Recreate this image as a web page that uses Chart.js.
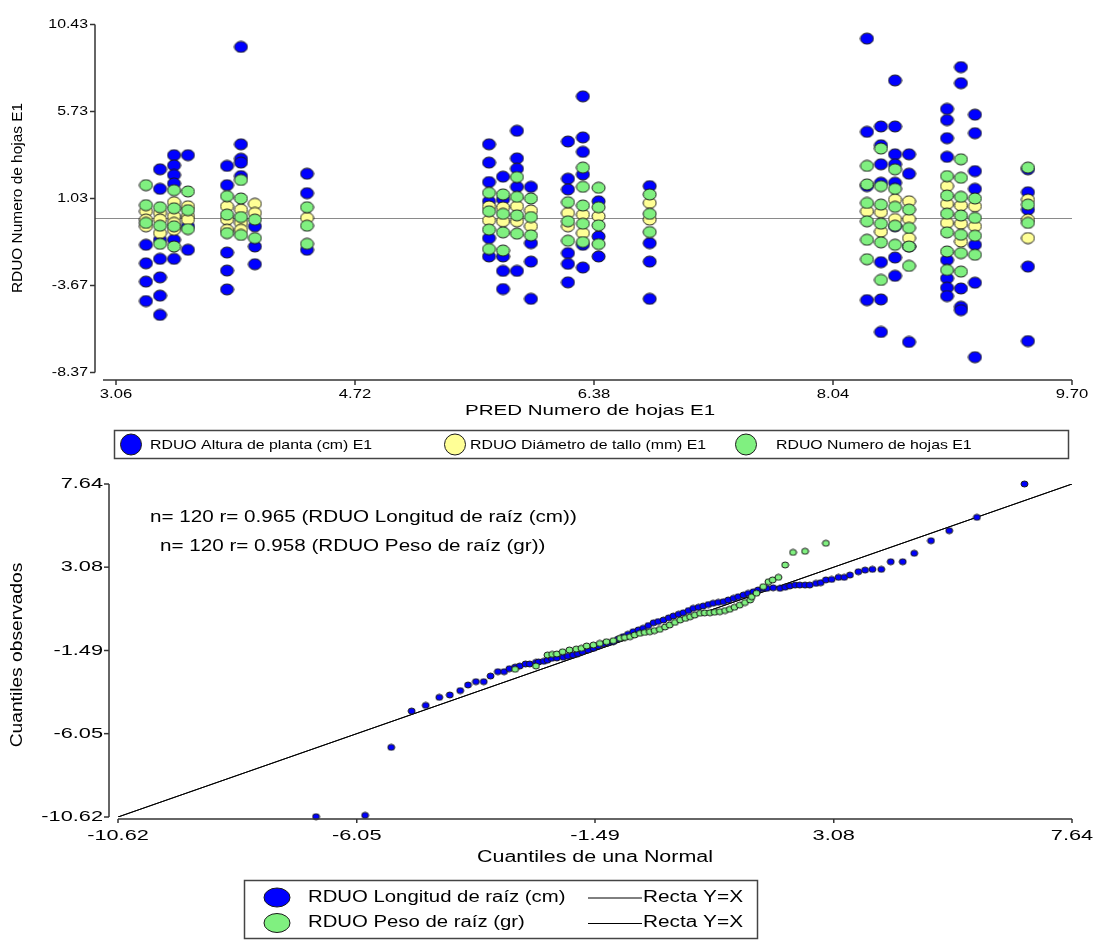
<!DOCTYPE html>
<html>
<head>
<meta charset="utf-8">
<script src="https://cdn.jsdelivr.net/npm/chart.js@4.4.1/dist/chart.umd.min.js"></script>
<style>
    body { margin: 0; background: #fff; }
    #page { position: relative; width: 1096px; height: 940px; }
    .panel { position: absolute; left: 0; width: 1096px; }
</style>
</head>
<body>
<div id="page">
    <div class="panel" style="top:0;height:465px"><canvas id="res-chart"></canvas></div>
    <div class="panel" style="top:465px;height:475px"><canvas id="qq-chart"></canvas></div>
</div>
<script>
// ---- residuals vs predicted (top) ----
const predCols = [3.268, 3.366, 3.463, 3.560, 3.831, 3.928, 4.025, 4.387,
    5.651, 5.748, 5.845, 5.942, 6.199, 6.303, 6.412, 6.767,
    8.276, 8.373, 8.471, 8.568, 8.832, 8.929, 9.026, 9.394];

const alturaRes = [
    [-1.47, -2.47, -3.46, -4.51],
    [2.61, 1.55, -1.20, -2.23, -3.23, -4.22, -5.26],
    [3.37, 2.82, 2.30, 1.84, -1.20, -2.23],
    [3.37, -0.47, -1.74],
    [2.79, 1.75, -1.89, -2.86, -3.88],
    [9.22, 3.96, 3.18, 2.97, 2.24],
    [-0.47, -1.56, -2.52],
    [2.37, 1.32, -1.74],
    [3.96, 2.97, 1.92, 0.88, -1.11, -2.10],
    [2.21, 0.98, -2.10, -2.88, -3.86],
    [4.69, 3.20, 2.64, 1.66, -2.88],
    [1.66, -1.38, -2.38, -4.39],
    [4.11, 2.10, 1.52, -1.92, -2.50, -3.50],
    [6.55, 4.33, 3.55, 2.33, -1.47, -2.70],
    [0.88, -1.02, -2.10],
    [1.70, -1.38, -2.38, -4.39],
    [9.67, 4.63, 1.70, -4.46],
    [4.92, 3.91, 2.88, 1.88, -2.41, -4.42, -6.18],
    [7.41, 4.92, 3.42, 2.88, 1.88, -0.47, -2.16, -3.15],
    [3.42, 2.37, -1.56, -6.72],
    [5.87, 5.27, 4.29, 3.28, -2.29, -3.28, -3.79, -4.24],
    [8.13, 7.26, -3.83, -4.82, -5.00],
    [5.56, 4.56, 2.51, 1.55, -1.47, -3.52, -7.54],
    [2.61, 1.37, 0.43, -2.65, -6.67]
];

const diametroRes = [
    [0.34, -0.11, -0.47], [0.25, -0.11, -0.84], [0.83, 0.07, -0.29, -0.66], [0.61, 0.07, -0.11],
    [0.61, -0.11, -0.66], [0.43, -0.29, -0.66], [0.74, 0.25], [-0.02],
    [-0.15, 0.60], [-0.20, 0.55], [0.61, -0.20], [0.38, -0.47],
    [0.25, -0.47], [0.16, -0.84], [0.07], [0.79, -0.11],
    [0.34], [0.29, -0.76], [0.97, -0.08], [0.88, -0.08, -1.11],
    [1.70, 0.74, -0.29], [0.65, -0.33, -1.29], [0.61, -0.47], [0.97, -0.11, -1.11]
];

const hojasRes = [
    [1.75, 0.67, -0.29], [0.56, -0.44, -1.42], [1.48, 0.50, -0.47, -1.56], [1.41, 0.40, -0.62],
    [1.16, 0.16, -0.84], [2.03, 1.03, 0.03, -0.94], [-0.11, -1.11], [0.56, -0.44, -1.42],
    [1.34, 0.34, -0.65, -1.70], [1.25, 0.20, -0.80, -1.78], [2.19, 1.12, 0.12, -0.87], [1.03, 0.03, -0.96],
    [0.83, -0.20, -1.25], [2.70, 1.66, 0.65, -0.33, -1.32], [1.61, 0.56, -0.42, -1.43], [1.25, 0.20, -0.78],
    [2.79, 1.79, 0.79, -0.20, -1.20, -2.25], [3.73, 1.70, 0.70, -0.33, -1.34, -3.37],
    [2.61, 1.55, 0.58, -0.44, -1.47], [0.43, -0.56, -1.56, -2.61],
    [2.24, 1.19, 0.21, -0.80, -1.83, -2.83], [3.15, 2.15, 1.12, 0.11, -0.93, -1.92, -2.92],
    [1.03, -0.02, -0.98, -2.01], [2.70, 0.70, -0.29]
];

const resXTicks = [3.06, 4.72, 6.38, 8.04, 9.70];
const resYTicks = [-8.37, -3.67, 1.03, 5.73, 10.43];
const resLegend = ['RDUO Altura de planta (cm) E1', 'RDUO Diámetro de tallo (mm) E1', 'RDUO Numero de hojas E1'];

// ---- normal QQ plot (bottom) ----
const longitudQ = [-6.83, -5.89, -5.39, -5.00, -4.73, -4.47, -4.27, -4.07, -3.92, -3.77, -3.62, -3.49, -3.35,
    -3.23, -3.13, -3.02, -2.93, -2.82, -2.74, -2.62, -2.57, -2.47, -2.40, -2.32, -2.22, -2.10, -2.01,
    -1.91, -1.82, -1.73, -1.62, -1.52, -1.43, -1.33, -1.24, -1.14, -1.05, -0.95, -0.86, -0.76, -0.66,
    -0.57, -0.47, -0.37, -0.28, -0.18, -0.08, 0.01, 0.11, 0.20, 0.30, 0.39, 0.49, 0.58, 0.68, 0.77,
    0.87, 0.97, 1.06, 1.16, 1.25, 1.35, 1.44, 1.54, 1.63, 1.73, 1.80, 1.92, 2.05, 2.15, 2.24, 2.34,
    2.43, 2.53, 2.62, 2.74, 2.83, 2.93, 3.04, 3.17, 3.28, 3.39, 3.55, 3.68, 3.82, 3.99, 4.17, 4.40,
    4.62, 4.94, 5.29, 5.82, 6.73];
const longitudObs = [-10.60, -10.53, -6.80, -4.81, -4.50, -4.06, -3.93, -3.69, -3.38, -3.20, -3.20, -2.89, -2.65,
    -2.65, -2.49, -2.40, -2.34, -2.23, -2.23, -2.14, -2.12, -2.08, -2.02, -1.92, -1.90, -1.86, -1.80,
    -1.74, -1.66, -1.56, -1.46, -1.37, -1.25, -1.13, -1.07, -1.01, -0.86, -0.73, -0.60, -0.46, -0.36,
    -0.27, -0.12, 0.03, 0.10, 0.18, 0.30, 0.40, 0.50, 0.58, 0.70, 0.82, 0.88, 0.95, 1.03, 1.10,
    1.15, 1.19, 1.28, 1.37, 1.46, 1.55, 1.64, 1.73, 1.83, 1.92, 1.92, 1.95, 1.92, 1.98, 2.05, 2.10,
    2.10, 2.10, 2.10, 2.19, 2.23, 2.38, 2.41, 2.52, 2.52, 2.65, 2.83, 2.92, 2.96, 2.96, 3.38, 3.38,
    3.84, 4.53, 5.08, 5.81, 7.64];

const pesoQ = [-3.02, -2.62, -2.40, -2.31, -2.22, -2.11, -1.98, -1.85, -1.75, -1.65, -1.52, -1.40, -1.27,
    -1.14, -1.01, -0.92, -0.82, -0.73, -0.63, -0.54, -0.44, -0.35, -0.25, -0.15, -0.06, 0.04, 0.14,
    0.24, 0.33, 0.42, 0.52, 0.61, 0.71, 0.80, 0.90, 1.00, 1.09, 1.18, 1.28, 1.38, 1.48, 1.51, 1.60,
    1.73, 1.83, 1.91, 2.02, 2.15, 2.30, 2.53, 2.93];
const pesoObs = [-2.52, -2.34, -1.74, -1.70, -1.68, -1.56, -1.46, -1.41, -1.37, -1.24, -1.19, -1.10, -1.01,
    -0.95, -0.82, -0.78, -0.73, -0.64, -0.55, -0.50, -0.46, -0.40, -0.33, -0.20, -0.09, 0.05, 0.18,
    0.27, 0.36, 0.45, 0.55, 0.57, 0.58, 0.61, 0.64, 0.70, 0.77, 0.88, 1.00, 1.14, 1.28, 1.46, 1.65,
    2.01, 2.28, 2.38, 2.52, 3.20, 3.89, 3.95, 4.39];

const qqTicks = [-10.62, -6.05, -1.49, 3.08, 7.64];
const qqNotes = ['n= 120 r= 0.965 (RDUO Longitud de raíz (cm))', 'n= 120 r= 0.958 (RDUO Peso de raíz (gr))'];
const qqLegend = ['RDUO Longitud de raíz (cm)', 'RDUO Peso de raíz (gr)'];

const BLUE = '#0000ff';
const YELLOW = '#ffff96';
const GREEN = '#80f080';
const FONT = '"Liberation Sans", Arial, sans-serif';

// ellipse sprite used as point style
function makeDot(w, h, fill) {
    const c = document.createElement('canvas');
    c.width = w + 2;
    c.height = h + 2;
    const g = c.getContext('2d');
    g.beginPath();
    g.ellipse(c.width / 2, c.height / 2, w / 2, h / 2, 0, 0, Math.PI * 2);
    g.fillStyle = fill;
    g.fill();
    g.lineWidth = 1;
    g.strokeStyle = '#1a1a1a';
    g.stroke();
    return c;
}

// InfoStat text is stretched horizontally, so scale x when drawing
function drawText(ctx, s, x, y, size, sx, align, rot) {
    ctx.save();
    ctx.translate(x, y);
    if (rot) ctx.rotate(rot);
    ctx.scale(sx, 1);
    ctx.font = size + 'px ' + FONT;
    ctx.textAlign = align;
    ctx.textBaseline = 'middle';
    ctx.fillStyle = '#000';
    ctx.fillText(s, 0, 0);
    ctx.restore();
}

function drawEllipse(ctx, cx, cy, w, h, fill) {
    ctx.beginPath();
    ctx.ellipse(cx, cy, w / 2, h / 2, 0, 0, Math.PI * 2);
    ctx.fillStyle = fill;
    ctx.fill();
    ctx.lineWidth = 1;
    ctx.strokeStyle = '#1a1a1a';
    ctx.stroke();
}

function line(ctx, x1, y1, x2, y2) {
    ctx.beginPath();
    ctx.moveTo(x1, y1);
    ctx.lineTo(x2, y2);
    ctx.stroke();
}

function columnPoints(cols) {
    const pts = [];
    cols.forEach((vals, i) => vals.forEach((v) => pts.push({x: predCols[i], y: v})));
    return pts;
}

function pairPoints(qs, obs) {
    return qs.map((q, i) => ({x: q, y: obs[i]}));
}

const resFrame = {
    id: 'resFrame',
    beforeDatasetsDraw(chart) {
        const {ctx, chartArea, scales: {y}} = chart;
        const y0 = Math.round(y.getPixelForValue(0)) + 0.5;
        ctx.save();
        ctx.strokeStyle = '#8a8a8a';
        ctx.lineWidth = 1;
        line(ctx, chartArea.left - 21, y0, chartArea.right, y0);
        ctx.restore();
    },
    afterDraw(chart) {
        const {ctx, chartArea, scales: {x, y}} = chart;
        const ax = chartArea.left - 21;
        const ay = chartArea.bottom + 7.5;
        ctx.save();
        ctx.strokeStyle = '#333';
        ctx.lineWidth = 1.5;
        line(ctx, ax, y.getPixelForValue(resYTicks[resYTicks.length - 1]), ax, y.getPixelForValue(resYTicks[0]));
        line(ctx, chartArea.left - 13, ay, chartArea.right, ay);
        resYTicks.forEach((v) => {
            const py = y.getPixelForValue(v);
            line(ctx, ax - 5, py, ax, py);
            drawText(ctx, v.toFixed(2), ax - 7, py, 13, 1.22, 'right');
        });
        resXTicks.forEach((v) => {
            const px = x.getPixelForValue(v);
            line(ctx, px, ay, px, ay + 5);
            drawText(ctx, v.toFixed(2), px, ay + 14, 13, 1.28, 'center');
        });
        drawText(ctx, 'PRED Numero de hojas E1', 590, 411, 15, 1.37, 'center');
        drawText(ctx, 'RDUO Numero de hojas E1', 18, 198, 14, 1.1, 'center', -Math.PI / 2);

        // legend
        ctx.strokeStyle = '#444';
        ctx.lineWidth = 1.5;
        ctx.strokeRect(114.5, 430.5, 954, 28);
        const dotX = [131, 455, 746];
        const textX = [150, 470, 776];
        const fills = [BLUE, YELLOW, GREEN];
        resLegend.forEach((lbl, i) => {
            drawEllipse(ctx, dotX[i], 444.5, 21, 21, fills[i]);
            drawText(ctx, lbl, textX[i], 445, 13, 1.22, 'left');
        });
        ctx.restore();
    }
};

const qqFrame = {
    id: 'qqFrame',
    afterDraw(chart) {
        const {ctx, chartArea, scales: {x, y}} = chart;
        const ax = chartArea.left - 9;
        const ay = chartArea.bottom + 2;
        ctx.save();
        ctx.strokeStyle = '#333';
        ctx.lineWidth = 1.5;
        line(ctx, ax, y.getPixelForValue(qqTicks[qqTicks.length - 1]), ax, y.getPixelForValue(qqTicks[0]));
        line(ctx, chartArea.left, ay, chartArea.right, ay);
        qqTicks.forEach((v) => {
            const py = y.getPixelForValue(v);
            line(ctx, ax - 5, py, ax, py);
            drawText(ctx, v.toFixed(2), ax - 6, py, 15, 1.45, 'right');
            const px = x.getPixelForValue(v);
            line(ctx, px, ay, px, ay + 4);
            drawText(ctx, v.toFixed(2), px, ay + 17, 15, 1.45, 'center');
        });
        drawText(ctx, 'Cuantiles de una Normal', 595, 393, 16, 1.34, 'center');
        drawText(ctx, 'Cuantiles observados', 18, 190, 16, 1.2, 'center', -Math.PI / 2);
        drawText(ctx, qqNotes[0], 150, 53, 16, 1.29, 'left');
        drawText(ctx, qqNotes[1], 160, 82, 16, 1.29, 'left');

        // legend
        ctx.strokeStyle = '#444';
        ctx.lineWidth = 1.5;
        ctx.strokeRect(244.5, 415.5, 513, 58);
        const rows = [432.5, 458];
        const fills = [BLUE, GREEN];
        qqLegend.forEach((lbl, i) => {
            drawEllipse(ctx, 277, rows[i], 26, 19, fills[i]);
            drawText(ctx, lbl, 308, rows[i], 16, 1.27, 'left');
            ctx.strokeStyle = '#000';
            ctx.lineWidth = 1;
            line(ctx, 588, rows[i] + 0.5, 642, rows[i] + 0.5);
            drawText(ctx, 'Recta Y=X', 643, rows[i], 16, 1.3, 'left');
        });
        ctx.restore();
    }
};

function baseOptions(xMin, xMax, yMin, yMax, padding) {
    return {
        responsive: true,
        maintainAspectRatio: false,
        animation: false,
        devicePixelRatio: 1,
        layout: {padding: padding},
        scales: {
            x: {type: 'linear', min: xMin, max: xMax, display: false},
            y: {type: 'linear', min: yMin, max: yMax, display: false}
        },
        plugins: {legend: {display: false}, tooltip: {enabled: false}}
    };
}

function createResChart() {
    const ctx = document.getElementById('res-chart').getContext('2d');
    const series = [
        {data: alturaRes, fill: BLUE, order: 3},
        {data: diametroRes, fill: YELLOW, order: 2},
        {data: hojasRes, fill: GREEN, order: 1}
    ];
    new Chart(ctx, {
        type: 'scatter',
        data: {
            datasets: series.map((s, i) => ({
                label: resLegend[i],
                data: columnPoints(s.data),
                pointStyle: makeDot(13, 11, s.fill),
                order: s.order,
                clip: false
            }))
        },
        options: baseOptions(3.06, 9.70, -8.37, 10.43, {left: 116, right: 24, top: 24.5, bottom: 92.5}),
        plugins: [resFrame]
    });
}

function createQQChart() {
    const ctx = document.getElementById('qq-chart').getContext('2d');
    const diag = [{x: qqTicks[0], y: qqTicks[0]}, {x: qqTicks[4], y: qqTicks[4]}];
    new Chart(ctx, {
        type: 'scatter',
        data: {
            datasets: [
                {label: qqLegend[0], data: pairPoints(longitudQ, longitudObs), pointStyle: makeDot(7, 6, BLUE), order: 2, clip: false},
                {label: qqLegend[1], data: pairPoints(pesoQ, pesoObs), pointStyle: makeDot(7, 6, GREEN), order: 1, clip: false},
                {label: 'Recta Y=X', data: diag, showLine: true, pointRadius: 0, borderColor: '#000', borderWidth: 1, order: 4},
                {label: 'Recta Y=X', data: diag, showLine: true, pointRadius: 0, borderColor: '#000', borderWidth: 1, order: 5}
            ]
        },
        options: baseOptions(-10.62, 7.64, -10.62, 7.64, {left: 118, right: 24, top: 19, bottom: 123}),
        plugins: [qqFrame]
    });
}

createResChart();
createQQChart();
</script>
</body>
</html>
